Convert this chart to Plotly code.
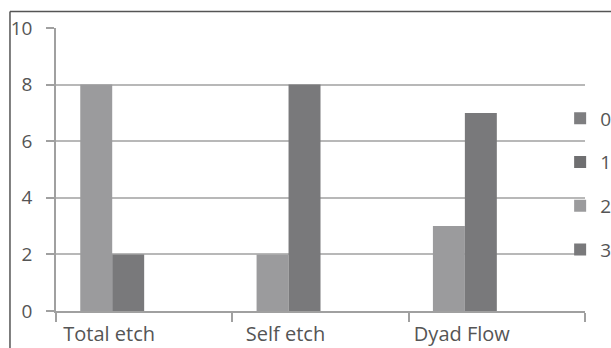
import plotly.graph_objects as go

categories = ["Total etch", "Self etch", "Dyad Flow"]
series_names = ["2", "3", "0", "1"]
series_values = {
    "2": [8, 2, 3],
    "3": [2, 8, 7],
    "0": [0, 0, 0],
    "1": [0, 0, 0],
}
series_colors = {"0": "#7e7e80", "1": "#6f6f71", "2": "#9b9b9d", "3": "#79797b"}
legend_rank = {"0": 1, "1": 2, "2": 3, "3": 4}
y_ticks = [0, 2, 4, 6, 8, 10]

fig = go.Figure()
for name in series_names:
    fig.add_trace(go.Bar(
        x=categories, y=series_values[name], name=name,
        marker=dict(color=series_colors[name], line=dict(width=0)),
        legendrank=legend_rank[name], legendgroup=name,
    ))

family = "Open Sans, Noto Sans, sans-serif"
xfont = dict(family=family, size=20, color="#555555")
yfont = dict(family=family, size=19, color="#555555")

fig.update_layout(
    width=611, height=348,
    margin=dict(l=56, r=26, t=28, b=37, autoexpand=False),
    paper_bgcolor="white", plot_bgcolor="white",
    barmode="group", bargap=0.275, bargroupgap=0,
    font=dict(family=family, size=18, color="#555555"),
    legend=dict(x=0.953, xanchor="left", y=0.449, yanchor="middle",
                font=dict(family=family, size=19, color="#555555"),
                tracegroupgap=16, bgcolor="rgba(0,0,0,0)", itemwidth=30),
    xaxis=dict(showline=True, linecolor="#a0a0a0", linewidth=1.5,
               ticks="outside", tickson="boundaries", ticklen=9, tickcolor="#a0a0a0",
               tickwidth=1.5, ticklabelshift=-35, ticklabelstandoff=4,
               showgrid=False, tickfont=xfont),
    yaxis=dict(range=[0, 10], tickvals=y_ticks, showline=True, linecolor="#a0a0a0",
               linewidth=1.5, ticks="outside", ticklen=8, tickcolor="#a0a0a0", tickwidth=1.5,
               showgrid=True, gridcolor="#b8b8b8", gridwidth=1.5, zeroline=False,
               ticklabelstandoff=10, tickfont=yfont),
    shapes=[
        dict(type="line", xref="paper", yref="paper", x0=-0.087, x1=-0.087, y0=1.058, y1=-0.2,
             line=dict(color="#555555", width=1.5)),
        dict(type="line", xref="paper", yref="paper", x0=-0.087, x1=1.1, y0=1.058, y1=1.058,
             line=dict(color="#555555", width=1.5)),
    ],
)

fig.write_html("out.html")
